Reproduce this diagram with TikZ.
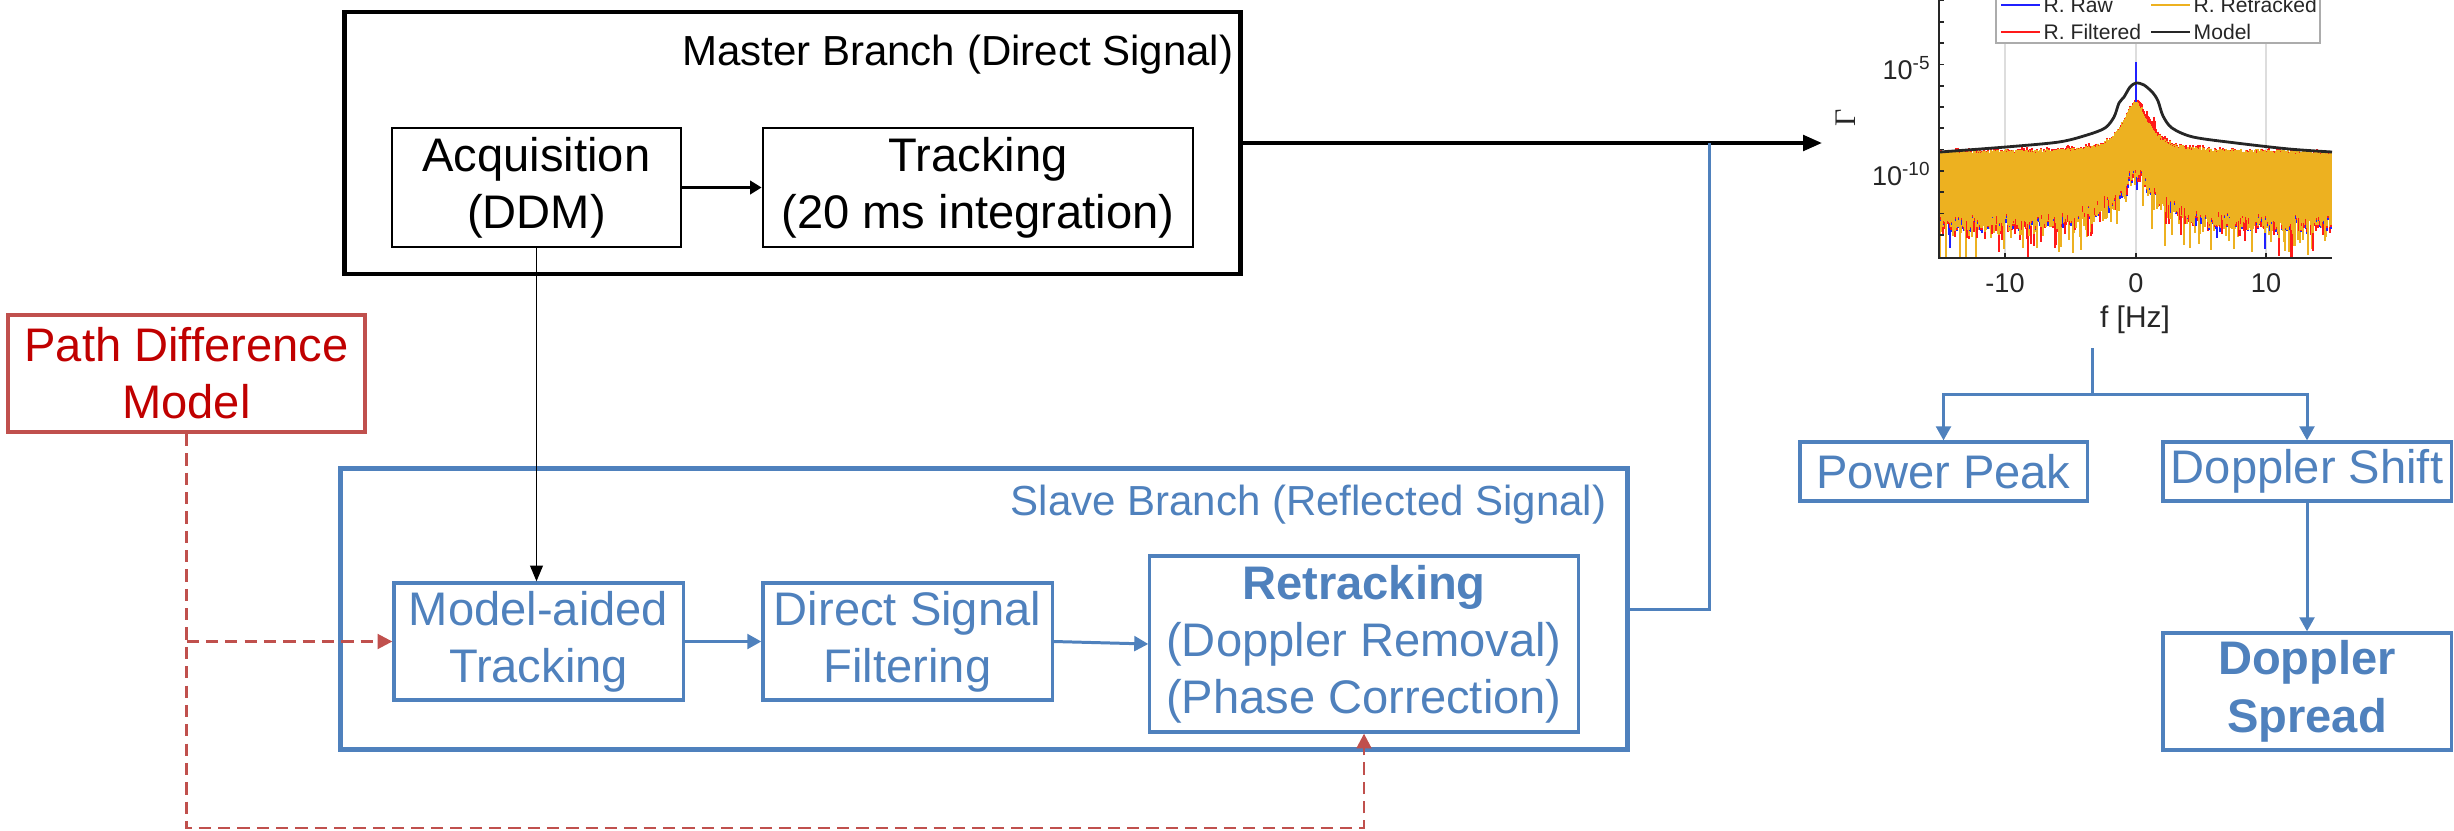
\documentclass[tikz,border=0pt]{standalone}
\usepackage{fontspec}
\setmainfont{Liberation Sans}
\newfontfamily\serifgr{Liberation Serif}
\usetikzlibrary{arrows.meta}
\definecolor{oblue}{HTML}{4F81BD}
\definecolor{ored}{HTML}{C0504D}
\definecolor{dred}{HTML}{C00000}
\definecolor{myellow}{HTML}{EDB120}
\definecolor{mred}{HTML}{FF1A1A}
\definecolor{mblue}{HTML}{2020FF}
\definecolor{axgray}{HTML}{262626}
\definecolor{gridgray}{HTML}{DDDDDD}
\newcommand\fsz[2]{\fontsize{#1}{#2}\selectfont}
\begin{document}
\begin{tikzpicture}[x=0.01cm,y=-0.01cm,
  mastbox/.style={draw=black,line width=1.3pt,inner sep=0pt},
  blkbox/.style={draw=black,line width=0.7pt,inner sep=0pt,align=center,font=\fsz{13.4}{16.2}},
  slavebox/.style={draw=oblue,line width=1.4pt,inner sep=0pt},
  bluebox/.style={draw=oblue,line width=0.9pt,inner sep=0pt,align=center,text=oblue,font=\fsz{13.4}{16.2}},
  redbox/.style={draw=ored,line width=1.15pt,inner sep=0pt,align=center,text=dred,font=\fsz{13.4}{16.2}},
  titlelbl/.style={inner sep=0pt,font=\fsz{11.95}{14}},
  blkarrow/.style={draw=black,line width=0.85pt,-{Triangle[length=3.3pt,width=3.8pt]}},
  thinarrow/.style={draw=black,line width=0.55pt,-{Triangle[length=4.5pt,width=3.6pt]}},
  bigarrow/.style={draw=black,line width=1.1pt,-{Triangle[length=5.4pt,width=4.4pt]}},
  blueline/.style={draw=oblue,line width=0.85pt},
  bluearrow/.style={blueline,-{Triangle[length=4pt,width=4.2pt]}},
  reddash/.style={draw=ored,line width=0.75pt,dash pattern=on 3.5pt off 2pt},
  redarrow/.style={reddash,-{Triangle[length=4.2pt,width=4.2pt]}},
  ticklbl/.style={inner sep=0pt,font=\fsz{7.7}{9},text=axgray},
  leglbl/.style={inner sep=0pt,font=\fsz{6}{7},text=axgray,anchor=west},
]
\useasboundingbox (0,0) rectangle (2454,830);

% ---------------- Master branch ----------------
\node[mastbox,minimum width=8.95cm,minimum height=2.62cm] (master) at (792.5,143) {};
\node[titlelbl,anchor=base east] (mlbl) at (1234,65) {Master Branch (Direct Signal)};
\node[blkbox,minimum width=2.89cm,minimum height=1.19cm] (acq) at (536.5,187.5) {Acquisition\\(DDM)};
\node[blkbox,minimum width=4.30cm,minimum height=1.19cm] (trk) at (978,187.5) {Tracking\\(20 ms integration)};
\draw[blkarrow] (acq) -- (trk);

% ---------------- Slave branch ----------------
\node[slavebox,minimum width=12.86cm,minimum height=2.80cm] (slave) at (984,609) {};
\node[titlelbl,text=oblue,anchor=base east] (slbl) at (1607,515) {Slave Branch (Reflected Signal)};
\node[bluebox,minimum width=2.89cm,minimum height=1.17cm] (mat) at (538.5,641.5) {Model-aided\\Tracking};
\node[bluebox,minimum width=2.89cm,minimum height=1.17cm] (dsf) at (907.5,641.5) {Direct Signal\\Filtering};
\node[bluebox,minimum width=4.28cm,minimum height=1.76cm] (retr) at (1364,644) {\textbf{Retracking}\\(Doppler Removal)\\(Phase Correction)};
\draw[bluearrow] (mat) -- (dsf);
\draw[bluearrow] (dsf.east) -- (retr.west);
\draw[thinarrow] (acq.south) -- (acq.south |- mat.north);

% ---------------- Path difference model ----------------
\node[redbox,minimum width=3.57cm,minimum height=1.17cm] (pd) at (186.5,373.5) {Path Difference\\Model};
\coordinate (pdbot) at (186.5,828);
\draw[redarrow] (pd.south) -- (pdbot) -| (retr.south);
\draw[redarrow] (pd.south |- mat.west) -- (mat.west);

% ---------------- Outputs to plot ----------------
\coordinate (plotin) at (1822,143);
\coordinate (joint) at (1709,143);
\draw[bigarrow] (master.east) -- (plotin);
\draw[blueline] (slave.east) -- (slave.east -| joint) -- (joint);

% ---------------- Plot ----------------
\foreach \gx in {2005,2136,2266}{\draw[gridgray,line width=0.55pt] (\gx,0) -- (\gx,258);}
\pgfmathsetseed{11}
\foreach \x in {1940,1941,...,2331}{
  \pgfmathsetmacro\f{(\x-2136)/13.05}
  \pgfmathsetmacro\yt{150-50/(1+(\f/1.2)*(\f/1.2))+4*rnd}
  \pgfmathsetmacro\yb{214-56*exp(-abs(\f)/2.2)+14*rnd}
  \pgfmathsetmacro\yr{\yt-5*rnd*rnd*rnd-(\f>0)*10*rnd*exp(max(-(\f-1.3)*(\f-1.3)/0.9,-20))}
  \pgfmathsetmacro\ybl{min(\yb+4+90*rnd*rnd*rnd*rnd*rnd*rnd,258)}
  \pgfmathsetmacro\yrs{min(\yb+2+80*rnd*rnd*rnd*rnd,258)}
  \pgfmathsetmacro\yys{min(\yb+70*rnd*rnd*rnd,258)}
  \draw[mblue,line width=0.4pt] (\x,\yt+8) -- (\x,\ybl);
  \draw[mred,line width=0.4pt] (\x,\yr) -- (\x,\yrs);
  \draw[myellow,line width=0.4pt] (\x,\yt) -- (\x,\yys);
}
\draw[mblue,line width=0.45pt] (2136,62) -- (2136,102);
\draw[axgray,line width=0.8pt] plot[smooth,tension=0.5] coordinates {
  (1940,152) (2006,147) (2059,142) (2087,135) (2105,128) (2114,117) (2119,103)
  (2124,97) (2130,87) (2136,83) (2144,85) (2153,93) (2158,101) (2163,116)
  (2172,128) (2193,137) (2236,143) (2289,149) (2332,152)};
\draw[axgray,line width=0.6pt] (1939,0) -- (1939,258) -- (2332,258);
\foreach \ty in {0.5,21.8,43.1,64.4,85.7,107,128.3,149.6,170.9,192.2,213.5,234.8}{\draw[axgray,line width=0.5pt] (1939,\ty) -- (1944,\ty);}
\foreach \gx in {2005,2136,2266}{\draw[axgray,line width=0.5pt] (\gx,258) -- (\gx,253);}
\node[ticklbl,anchor=base east] (y5) at (1932,79) {10\textsuperscript{-5}};
\node[ticklbl,anchor=base east] (y10) at (1932,185) {10\textsuperscript{-10}};
\node[ticklbl,anchor=base] (xm10) at (2005,292) {-10};
\node[ticklbl,anchor=base] (x0) at (2136,292) {0};
\node[ticklbl,anchor=base] (x10) at (2266,292) {10};
\node[inner sep=0pt,font=\fsz{8.5}{10},text=axgray] (xlab) at (2135,320) {f [Hz]};
\node[inner sep=0pt,font=\serifgr\fsz{8.5}{10},text=axgray,rotate=90] (ylab) at (1846,118) {Γ};
% legend
\draw[gray!65,fill=white,line width=0.4pt] (1996,-8) rectangle (2320,43);
\draw[mblue,line width=0.4pt] (2001,5) -- (2040,5);
\node[leglbl] (l1) at (2043,5) {R. Raw};
\draw[myellow,line width=0.4pt] (2151,5) -- (2190,5);
\node[leglbl] (l2) at (2193,5) {R. Retracked};
\draw[mred,line width=0.4pt] (2001,32) -- (2040,32);
\node[leglbl] (l3) at (2043,32) {R. Filtered};
\draw[axgray,line width=0.8pt] (2151,32) -- (2190,32);
\node[leglbl] (l4) at (2193,32) {Model};

% ---------------- Derived parameters ----------------
\coordinate (pout) at (2092,348);
\coordinate (split) at (2092,394);
\node[bluebox,minimum width=2.87cm,minimum height=0.59cm] (pp) at (1943.5,471.5) {Power Peak};
\node[bluebox,minimum width=2.88cm,minimum height=0.59cm] (ds) at (2307,471.5) {Doppler Shift};
\node[bluebox,minimum width=2.88cm,minimum height=1.17cm,font=\fsz{13.4}{16.4}\bfseries] (dsp) at (2307,691.5) {Doppler\\Spread};
\draw[blueline] (pout) -- (split);
\draw[bluearrow] (split) -| (pp.north);
\draw[bluearrow] (split) -| (ds.north);
\draw[bluearrow] (ds) -- (dsp);
\end{tikzpicture}
\end{document}
